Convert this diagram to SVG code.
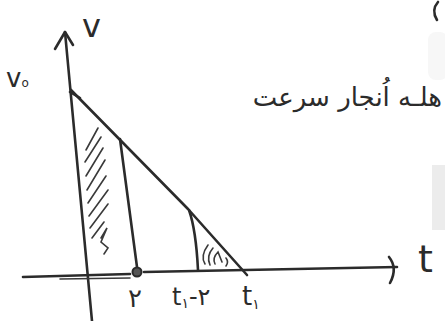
<svg xmlns="http://www.w3.org/2000/svg" width="445" height="321" viewBox="0 0 445 321">
<style>
.ln{fill:none;stroke:#2b2b2b;stroke-width:2.6;stroke-linecap:round;stroke-linejoin:round}
.ht{fill:none;stroke:#3a3a3a;stroke-width:1.6;stroke-linecap:round}
.tx{font-family:"DejaVu Sans","Liberation Sans",sans-serif;fill:#2b2b2b}
</style>
<rect width="445" height="321" fill="#ffffff"/>
<rect x="428" y="32" width="20" height="48" rx="8" fill="#f7f7f7"/>
<rect x="432" y="165" width="14" height="65" fill="#ececec"/>
<path class="ln" d="M438,2 Q431,10 437,20"/>
<g id="axes">
<path class="ln" d="M65,32 L92,321"/>
<path class="ln" d="M55,49 L65,32 L73,45"/>
<path class="ln" d="M23,277 L130,274 M144,272 L397,267"/>
<path class="ht" d="M60,279 L130,278"/>
<path class="ln" d="M389,257 Q398,268 390,283"/>
</g>
<g id="graph">
<path class="ln" d="M71,90 L188,209 L247,275"/>
<path class="ln" d="M70,92 L80,98"/>
<path class="ln" d="M120,139 L137,267"/>
<circle cx="137" cy="272" r="4.5" fill="#555" stroke="#2b2b2b" stroke-width="2"/>
<path class="ln" d="M189,210 Q196,230 198,270"/>
</g>
<g id="hatching">
<path class="ht" d="M86,150 L98,128 M85,162 L101,137 M86,176 L103,148 M87,190 L105,160 M88,203 L106,176 M89,216 L108,190 M90,228 L108,204 M92,238 L104,222 M101,238 L107,228 L101,242 L108,248 L104,254"/>
<path class="ht" d="M205,264 Q200,256 208,245 M210,265 Q206,256 213,248 M215,264 Q212,258 218,252 L222,262 M226,258 Q229,262 226,266"/>
</g>
<g id="labels">
<text class="tx" x="82" y="37" font-size="32">v</text>
<text class="tx" x="6" y="87" font-size="26">v<tspan font-size="12">o</tspan></text>
<text class="tx" x="128" y="307" font-size="26">۲</text>
<text class="tx" x="172" y="305" font-size="24">t<tspan font-size="14" dy="3">۱</tspan><tspan dy="-3">-۲</tspan></text>
<text class="tx" x="242" y="305" font-size="26">t<tspan font-size="14" dy="4">۱</tspan></text>
<text class="tx" x="418" y="272" font-size="38">t</text>
<text class="tx" x="442" y="106" font-size="26" direction="rtl" unicode-bidi="embed" text-anchor="start">هلـه اُنجار سرعت</text>
</g>
</svg>
